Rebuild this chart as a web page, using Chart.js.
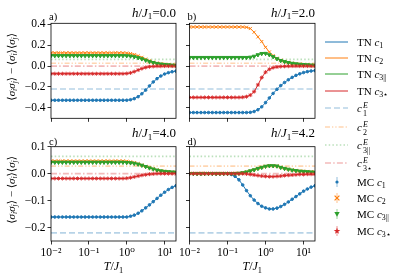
<!DOCTYPE html>
<html>
<head>
<meta charset="utf-8">
<script src="https://cdn.jsdelivr.net/npm/chart.js@4.4.1/dist/chart.umd.min.js"></script>
<style>
    html, body { margin: 0; padding: 0; background: #fff; }
    #wrap { position: relative; width: 399px; height: 279px; overflow: hidden; }
    #wrap canvas { position: absolute; left: 0; top: 0; }
    .leg { position: absolute; left: 325px; height: 16px; font-family: "Liberation Serif", serif; font-size: 11px; color: #000; white-space: nowrap; }
    .leg svg { position: absolute; left: 0; top: 0; }
    .leg span.txt { position: absolute; left: 32px; top: 0; line-height: 16px; }
    .leg sub { font-size: 0.72em; vertical-align: -0.3em; line-height: 0; }
    .ss { display: inline-block; vertical-align: -4px; font-size: 8px; line-height: 8px; margin-left: 1px; }
    .ss > * { display: block; }
</style>
</head>
<body>
<div id="wrap">
    <canvas id="pa" width="399" height="279"></canvas>
    <canvas id="pb" width="399" height="279"></canvas>
    <canvas id="pc" width="399" height="279"></canvas>
    <canvas id="pd" width="399" height="279"></canvas>
</div>
<script>
// 温度网格 T/J1（约每十倍 10 个点）
const T = [0.01, 0.0126, 0.0158, 0.02, 0.0251, 0.0316, 0.0398, 0.0501, 0.0631, 0.0794,
           0.1, 0.126, 0.158, 0.2, 0.251, 0.316, 0.398, 0.501, 0.631, 0.794,
           1.0, 1.26, 1.58, 2.0, 2.51, 3.16, 3.98, 5.01, 6.31, 7.94,
           10, 12.6, 15.8, 20];

const xTickVals = [0.01, 0.1, 1, 10];
const xTickLabels = ["10⁻²", "10⁻¹", "10⁰", "10¹"];
const yTicksTop = [-0.4, -0.2, 0, 0.2, 0.4];
const yLabelsTop = ["−0.4", "−0.2", "0.0", "0.2", "0.4"];
const yTicksBottom = [-0.2, -0.1, 0, 0.1];
const yLabelsBottom = ["−0.2", "−0.1", "0.0", "0.1"];

const hValues = ["0.0", "2.0", "4.0", "4.2"];
const panelLetters = ["a)", "b)", "c)", "d)"];

// c1^E, c2^E, c3||^E, c3*^E
const eLevels = [-0.22, 0.028, 0.064, 0.0];

// h/J1 = 0.0
const h00_c1 = [-0.327, -0.327, -0.327, -0.327, -0.327, -0.327, -0.327, -0.327, -0.327, -0.327,
                -0.327, -0.327, -0.327, -0.327, -0.327, -0.327, -0.327, -0.327, -0.327, -0.327,
                -0.327, -0.322, -0.312, -0.293, -0.265, -0.23, -0.19, -0.152, -0.12, -0.095,
                -0.076, -0.063, -0.054, -0.048];
const h00_c2 = [0.127, 0.127, 0.127, 0.127, 0.127, 0.127, 0.127, 0.127, 0.127, 0.127,
                0.127, 0.127, 0.127, 0.127, 0.127, 0.127, 0.127, 0.127, 0.127, 0.127,
                0.125, 0.12, 0.111, 0.099, 0.084, 0.067, 0.051, 0.038, 0.029, 0.022,
                0.017, 0.013, 0.011, 0.009];
const h00_c3p = [0.1, 0.1, 0.1, 0.1, 0.1, 0.1, 0.1, 0.1, 0.1, 0.1,
                 0.1, 0.1, 0.1, 0.1, 0.1, 0.1, 0.1, 0.1, 0.1, 0.1,
                 0.099, 0.096, 0.089, 0.08, 0.069, 0.056, 0.044, 0.033, 0.025, 0.019,
                 0.015, 0.012, 0.009, 0.007];
const h00_c3s = [-0.073, -0.073, -0.073, -0.073, -0.073, -0.073, -0.073, -0.073, -0.073, -0.073,
                 -0.073, -0.073, -0.073, -0.073, -0.073, -0.073, -0.073, -0.073, -0.073, -0.073,
                 -0.071, -0.065, -0.053, -0.038, -0.024, -0.013, -0.006, -0.003, -0.001, -0.001,
                 0, 0, 0, 0];

// h/J1 = 2.0
const h20_c1 = [-0.445, -0.445, -0.445, -0.445, -0.445, -0.445, -0.445, -0.445, -0.445, -0.445,
                -0.445, -0.445, -0.445, -0.445, -0.445, -0.445, -0.443, -0.435, -0.418, -0.39,
                -0.35, -0.305, -0.262, -0.222, -0.187, -0.157, -0.131, -0.108, -0.089, -0.074,
                -0.062, -0.053, -0.047, -0.043];
const h20_c2 = [0.375, 0.375, 0.375, 0.375, 0.375, 0.375, 0.375, 0.375, 0.375, 0.375,
                0.375, 0.375, 0.375, 0.375, 0.375, 0.372, 0.36, 0.325, 0.28, 0.235,
                0.18, 0.135, 0.1, 0.075, 0.057, 0.045, 0.036, 0.029, 0.023, 0.019,
                0.015, 0.013, 0.011, 0.009];
const h20_c3p = [0.082, 0.082, 0.082, 0.082, 0.082, 0.082, 0.082, 0.082, 0.082, 0.082,
                 0.082, 0.082, 0.082, 0.082, 0.082, 0.082, 0.085, 0.094, 0.108, 0.12,
                 0.121, 0.108, 0.09, 0.07, 0.053, 0.042, 0.033, 0.026, 0.021, 0.017,
                 0.014, 0.012, 0.01, 0.008];
const h20_c3s = [-0.3, -0.3, -0.3, -0.3, -0.3, -0.3, -0.3, -0.3, -0.3, -0.3,
                 -0.3, -0.3, -0.3, -0.3, -0.298, -0.293, -0.278, -0.245, -0.18, -0.11,
                 -0.058, -0.03, -0.015, -0.008, -0.004, -0.002, -0.001, 0, 0, 0,
                 0, 0, 0, 0];

// h/J1 = 4.0
const h40_c1 = [-0.161, -0.161, -0.161, -0.161, -0.161, -0.161, -0.161, -0.161, -0.161, -0.161,
                -0.161, -0.161, -0.161, -0.161, -0.161, -0.161, -0.161, -0.161, -0.161, -0.161,
                -0.161, -0.158, -0.154, -0.147, -0.138, -0.127, -0.116, -0.104, -0.092, -0.08,
                -0.069, -0.059, -0.051, -0.045];
const h40_c2 = [0.047, 0.047, 0.047, 0.047, 0.047, 0.047, 0.047, 0.047, 0.047, 0.047,
                0.047, 0.047, 0.047, 0.047, 0.047, 0.047, 0.047, 0.047, 0.047, 0.047,
                0.046, 0.044, 0.041, 0.037, 0.032, 0.027, 0.022, 0.018, 0.014, 0.011,
                0.009, 0.007, 0.006, 0.005];
const h40_c3p = [0.042, 0.042, 0.042, 0.042, 0.042, 0.042, 0.042, 0.042, 0.042, 0.042,
                 0.042, 0.042, 0.042, 0.042, 0.042, 0.042, 0.042, 0.042, 0.042, 0.042,
                 0.041, 0.04, 0.038, 0.035, 0.031, 0.026, 0.021, 0.017, 0.013, 0.01,
                 0.008, 0.007, 0.006, 0.005];
const h40_c3s = [-0.018, -0.018, -0.018, -0.018, -0.018, -0.018, -0.018, -0.018, -0.018, -0.018,
                 -0.018, -0.018, -0.018, -0.018, -0.018, -0.018, -0.018, -0.018, -0.018, -0.018,
                 -0.017, -0.015, -0.012, -0.009, -0.006, -0.004, -0.002, -0.001, 0, 0,
                 0, 0, 0, 0];

// h/J1 = 4.2
const h42_c1 = [0, 0, 0, 0, 0, 0, 0, 0, 0, 0,
                0, -0.003, -0.01, -0.023, -0.042, -0.063, -0.082, -0.098, -0.111, -0.121,
                -0.127, -0.131, -0.131, -0.128, -0.122, -0.114, -0.105, -0.095, -0.085, -0.075,
                -0.065, -0.057, -0.05, -0.045];
const h42_c2 = [0.001, 0.001, 0.001, 0.001, 0.001, 0.001, 0.001, 0.001, 0.001, 0.001,
                0.001, 0.001, 0.001, 0.002, 0.004, 0.007, 0.011, 0.015, 0.02, 0.024,
                0.028, 0.03, 0.03, 0.029, 0.024, 0.02, 0.017, 0.014, 0.012, 0.01,
                0.009, 0.008, 0.007, 0.006];
const h42_c3p = [0, 0, 0, 0, 0, 0, 0, 0, 0, 0,
                 0, 0, 0, 0.001, 0.003, 0.006, 0.01, 0.014, 0.019, 0.023,
                 0.027, 0.029, 0.029, 0.028, 0.023, 0.019, 0.016, 0.013, 0.011, 0.009,
                 0.008, 0.007, 0.006, 0.005];
const h42_c3s = [0, 0, 0, 0, 0, 0, 0, 0, 0, 0,
                 0, 0, 0, 0, 0, -0.001, -0.003, -0.005, -0.007, -0.009,
                 -0.01, -0.011, -0.011, -0.01, -0.009, -0.007, -0.006, -0.005, -0.004, -0.003,
                 -0.003, -0.002, -0.002, -0.002];

// 样式
const serif = "'Liberation Serif', 'DejaVu Serif', serif";
const colors = ["#1f77b4", "#ff7f0e", "#2ca02c", "#d62728"];
const lightColors = ["rgba(31,119,180,0.32)", "rgba(255,127,14,0.32)", "rgba(44,160,44,0.32)", "rgba(214,39,40,0.32)"];
const eDash = [[6, 3], [5, 2, 1.3, 2, 1.3, 2], [1.5, 2.2], [6, 2.2, 1.5, 2.2]];
const mcStyle = [
    { pointStyle: "circle", radius: 1.3, rotation: 0, bw: 1 },
    { pointStyle: "crossRot", radius: 2.2, rotation: 0, bw: 1 },
    { pointStyle: "triangle", radius: 2.2, rotation: 180, bw: 1 },
    { pointStyle: "star", radius: 2.0, rotation: 0, bw: 0.9 }
];

Chart.defaults.font.family = serif;
Chart.defaults.color = "#000";

// 画一串文字（斜体 / 下标 / 上标）
function drawRuns(ctx, runs, x, y, size, align) {
    let total = 0;
    const parts = runs.map(r => {
        const s = (r.sub || r.sup) ? size * 0.7 : size;
        const font = (r.it ? "italic " : "") + s + "px " + serif;
        ctx.font = font;
        const w = ctx.measureText(r.t).width;
        total += w;
        return { t: r.t, font: font, w: w, dy: r.sub ? size * 0.22 : (r.sup ? -size * 0.38 : 0) };
    });
    let cx = align === "right" ? x - total : (align === "center" ? x - total / 2 : x);
    parts.forEach(p => {
        ctx.font = p.font;
        ctx.fillText(p.t, cx, y + p.dy);
        cx += p.w;
    });
}

const yTitleRuns = [
    { t: "⟨" }, { t: "σ", it: 1 }, { t: "i", it: 1, sub: 1 }, { t: "σ", it: 1 }, { t: "j", it: 1, sub: 1 },
    { t: "⟩ − ⟨" }, { t: "σ", it: 1 }, { t: "i", it: 1, sub: 1 }, { t: "⟩⟨" }, { t: "σ", it: 1 },
    { t: "j", it: 1, sub: 1 }, { t: "⟩" }
];
const xTitleRuns = [{ t: "T", it: 1 }, { t: "/" }, { t: "J", it: 1 }, { t: "1", sub: 1 }];

const panelText = {
    id: "panelText",
    afterDraw(chart, args, o) {
        const ctx = chart.ctx;
        const a = chart.chartArea;
        ctx.save();
        ctx.fillStyle = "#000";
        ctx.textAlign = "left";
        ctx.textBaseline = "alphabetic";
        ctx.strokeStyle = "#000";
        ctx.lineWidth = 0.8;
        ctx.strokeRect(a.left, a.top, a.right - a.left, a.bottom - a.top);
        drawRuns(ctx, [{ t: o.letter }], a.left - 2, o.letterY, 10.5, "left");
        drawRuns(ctx, [{ t: "h", it: 1 }, { t: "/" }, { t: "J", it: 1 }, { t: "1", sub: 1 }, { t: "=" + o.h }],
                 a.right, o.titleY, 13, "right");
        if (o.xTitle) {
            drawRuns(ctx, xTitleRuns, (a.left + a.right) / 2, 270, 12, "center");
        }
        if (o.yTitle) {
            ctx.translate(15, (a.top + a.bottom) / 2 - 4);
            ctx.rotate(-Math.PI / 2);
            drawRuns(ctx, yTitleRuns, 0, 0, 11, "center");
        }
        ctx.restore();
    }
};

function buildDatasets(series) {
    const ds = [];
    series.forEach((vals, i) => {
        ds.push({
            data: [{ x: T[0], y: eLevels[i] }, { x: T[T.length - 1], y: eLevels[i] }],
            showLine: true, borderColor: lightColors[i], borderWidth: 1.6, borderDash: eDash[i],
            pointRadius: 0, order: 3 - i * 0.01
        });
    });
    series.forEach((vals, i) => {
        const pts = T.map((t, k) => ({ x: t, y: vals[k] }));
        ds.push({
            data: pts, showLine: true, borderColor: colors[i], borderWidth: 1,
            pointRadius: 0, order: 2 - i * 0.01
        });
        ds.push({
            data: pts, showLine: false, pointStyle: mcStyle[i].pointStyle,
            pointRadius: mcStyle[i].radius, pointRotation: mcStyle[i].rotation,
            backgroundColor: colors[i], borderColor: colors[i], pointBorderWidth: mcStyle[i].bw,
            order: 1 - i * 0.01
        });
    });
    return ds;
}

// 面板位置（绘图区像素）
const boxes = [
    { left: 51, top: 23.3, right: 176, bottom: 118.3 },
    { left: 189.5, top: 23.3, right: 315, bottom: 118.3 },
    { left: 51, top: 146.7, right: 176, bottom: 241 },
    { left: 189.5, top: 146.7, right: 315, bottom: 241 }
];
const panelSeries = [
    [h00_c1, h00_c2, h00_c3p, h00_c3s],
    [h20_c1, h20_c2, h20_c3p, h20_c3s],
    [h40_c1, h40_c2, h40_c3p, h40_c3s],
    [h42_c1, h42_c2, h42_c3p, h42_c3s]
];

function renderPanel(idx, canvasId) {
    const box = boxes[idx];
    const leftCol = idx % 2 === 0;
    const bottomRow = idx >= 2;
    const yW = leftCol ? 51 : 10;
    const xH = bottomRow ? 38 : 0;
    const yTicks = bottomRow ? yTicksBottom : yTicksTop;
    const yLabels = bottomRow ? yLabelsBottom : yLabelsTop;
    const tickGrid = { drawOnChartArea: false, drawTicks: true, tickLength: 3.5, tickColor: "#000", tickWidth: 0.8 };

    new Chart(document.getElementById(canvasId), {
        type: "scatter",
        data: { datasets: buildDatasets(panelSeries[idx]) },
        options: {
            responsive: false,
            animation: false,
            devicePixelRatio: 1,
            events: [],
            layout: {
                autoPadding: false,
                padding: { left: box.left - yW, top: box.top, right: 399 - box.right, bottom: 279 - box.bottom - xH }
            },
            plugins: {
                legend: { display: false },
                tooltip: { enabled: false },
                panelText: {
                    letter: panelLetters[idx],
                    letterY: bottomRow ? 145.3 : 19.5,
                    h: hValues[idx],
                    titleY: bottomRow ? 137 : 16.5,
                    xTitle: bottomRow,
                    yTitle: leftCol
                }
            },
            scales: {
                x: {
                    type: "logarithmic",
                    min: 0.01,
                    max: 20,
                    bounds: "data",
                    afterBuildTicks: s => { s.ticks = xTickVals.map(v => ({ value: v })); },
                    afterFit: s => { s.height = xH; },
                    ticks: {
                        display: bottomRow,
                        autoSkip: false,
                        maxRotation: 0,
                        padding: 2,
                        font: { size: 11.5, family: serif },
                        callback: (v, i) => xTickLabels[i]
                    },
                    grid: tickGrid,
                    border: { display: false }
                },
                y: {
                    type: "linear",
                    min: bottomRow ? -0.25 : -0.5,
                    max: bottomRow ? 0.1 : 0.41,
                    bounds: "data",
                    afterBuildTicks: s => { s.ticks = yTicks.map(v => ({ value: v })); },
                    afterFit: s => { s.width = yW; },
                    ticks: {
                        display: leftCol,
                        padding: 2,
                        font: { size: 11.5, family: serif },
                        callback: (v, i) => yLabels[i]
                    },
                    grid: tickGrid,
                    border: { display: false }
                }
            }
        },
        plugins: [panelText]
    });
}

renderPanel(0, "pa");
renderPanel(1, "pb");
renderPanel(2, "pc");
renderPanel(3, "pd");

// 图例（HTML）
const legendRows = [
    { y: 42, kind: "tn", i: 0, label: "TN <i>c</i><sub>1</sub>" },
    { y: 58, kind: "tn", i: 1, label: "TN <i>c</i><sub>2</sub>" },
    { y: 74, kind: "tn", i: 2, label: "TN <i>c</i><sub>3||</sub>" },
    { y: 91, kind: "tn", i: 3, label: "TN <i>c</i><sub>3⋆</sub>" },
    { y: 108, kind: "e", i: 0, label: "<i>c</i><span class='ss'><i>E</i><span>1</span></span>" },
    { y: 127, kind: "e", i: 1, label: "<i>c</i><span class='ss'><i>E</i><span>2</span></span>" },
    { y: 145, kind: "e", i: 2, label: "<i>c</i><span class='ss'><i>E</i><span>3||</span></span>" },
    { y: 163, kind: "e", i: 3, label: "<i>c</i><span class='ss'><i>E</i><span>3⋆</span></span>" },
    { y: 182, kind: "mc", i: 0, label: "MC <i>c</i><sub>1</sub>" },
    { y: 198, kind: "mc", i: 1, label: "MC <i>c</i><sub>2</sub>" },
    { y: 214, kind: "mc", i: 2, label: "MC <i>c</i><sub>3||</sub>" },
    { y: 231, kind: "mc", i: 3, label: "MC <i>c</i><sub>3⋆</sub>" }
];

function markerSvg(i) {
    const c = colors[i];
    if (i === 0) return `<circle cx="12" cy="8" r="1.6" fill="${c}"/>`;
    if (i === 1) return `<path d="M9.6 5.6 L14.4 10.4 M14.4 5.6 L9.6 10.4" stroke="${c}" stroke-width="1.2"/>`;
    if (i === 2) return `<polygon points="9.3,6 14.7,6 12,10.7" fill="${c}"/>`;
    return `<polygon points="12,4.6 12.8,6.9 15.3,6.9 13.3,8.4 14,10.8 12,9.4 10,10.8 10.7,8.4 8.7,6.9 11.2,6.9" fill="${c}"/>`;
}

const wrap = document.getElementById("wrap");
legendRows.forEach(row => {
    let svg = "";
    if (row.kind === "tn") {
        svg = `<line x1="0" y1="8" x2="23" y2="8" stroke="${colors[row.i]}" stroke-width="1"/>`;
    } else if (row.kind === "e") {
        svg = `<line x1="0" y1="8" x2="23" y2="8" stroke="${lightColors[row.i]}" stroke-width="1.6" stroke-dasharray="${eDash[row.i].join(",")}"/>`;
    } else {
        svg = `<line x1="12" y1="3" x2="12" y2="13" stroke="${lightColors[row.i]}" stroke-width="1.5"/>` + markerSvg(row.i);
    }
    const div = document.createElement("div");
    div.className = "leg";
    div.style.top = (row.y - 8) + "px";
    div.innerHTML = `<svg width="24" height="16">${svg}</svg><span class="txt">${row.label}</span>`;
    wrap.appendChild(div);
});
</script>
</body>
</html>
